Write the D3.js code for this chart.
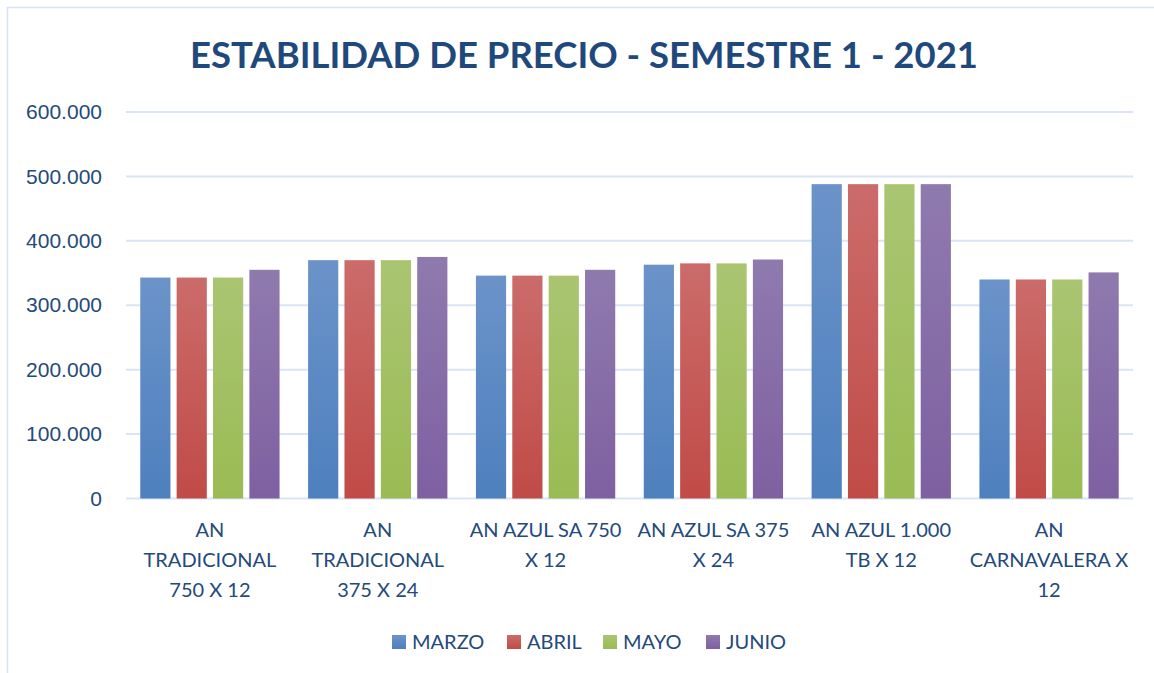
<!DOCTYPE html>
<html>
<head>
<meta charset="utf-8">
<script src="https://cdn.jsdelivr.net/npm/d3@7"></script>
<style>
  body { margin: 0; background: #fff; }
  svg { display: block; font-family: Lato, "Open Sans", sans-serif; }
</style>
</head>
<body>
<svg id="chart"></svg>
<script>
// data
var categories = [
  "AN\nTRADICIONAL\n750 X 12",
  "AN\nTRADICIONAL\n375 X 24",
  "AN AZUL SA 750\nX 12",
  "AN AZUL SA 375\nX 24",
  "AN AZUL 1.000\nTB X 12",
  "AN\nCARNAVALERA X\n12"
];
var months = ["MARZO", "ABRIL", "MAYO", "JUNIO"];
var marzo = [343000, 370000, 346000, 363000, 488000, 340000];
var abril = [343000, 370000, 346000, 365000, 488000, 340000];
var mayo  = [343000, 370000, 346000, 365000, 488000, 340000];
var junio = [355000, 375000, 355000, 371000, 488000, 351000];
var yTicks = [0, 100000, 200000, 300000, 400000, 500000, 600000];

var series = [marzo, abril, mayo, junio];
var colorsTop = ["#6b93c9", "#cb6c6a", "#aac572", "#8f7aae"];
var colorsBottom = ["#4e80be", "#c04b47", "#9abb54", "#7e60a1"];

var width = 1154;
var height = 673;
var margin = {top: 112, right: 21, bottom: 174, left: 126};
var textColor = "#24497b";

var svg = d3.select("#chart")
    .attr("width", width)
    .attr("height", height);

// outer border
svg.append("rect")
    .attr("x", 7.5).attr("y", 7.5)
    .attr("width", width - 6).attr("height", height - 4)
    .attr("fill", "none")
    .attr("stroke", "#d6e3f3")
    .attr("stroke-width", 1.5);

var defs = svg.append("defs");
months.forEach(function(m, i){
  var g = defs.append("linearGradient")
      .attr("id", "grad" + i)
      .attr("x1", 0).attr("y1", 0).attr("x2", 0).attr("y2", 1);
  g.append("stop").attr("offset", "0%").attr("stop-color", colorsTop[i]);
  g.append("stop").attr("offset", "100%").attr("stop-color", colorsBottom[i]);
});

var x0 = d3.scaleBand()
    .domain(categories)
    .range([margin.left, width - margin.right])
    .paddingInner(0.17)
    .paddingOuter(0.085);

var x1 = d3.scaleBand()
    .domain(months)
    .range([0, x0.bandwidth()])
    .paddingInner(0.17);

var yScale = d3.scaleLinear()
    .domain([0, 600000])
    .range([height - margin.bottom - 0.5, margin.top]);

// gridlines
svg.append("g")
  .selectAll("line")
  .data(yTicks)
  .enter()
  .append("line")
    .attr("x1", margin.left)
    .attr("x2", width - margin.right)
    .attr("y1", d => yScale(d))
    .attr("y2", d => yScale(d))
    .attr("stroke", "#d9e5f4")
    .attr("stroke-width", 2);

// y axis labels
var yAxis = d3.axisLeft(yScale)
    .tickValues(yTicks)
    .tickSize(0)
    .tickPadding(24)
    .tickFormat(d => d3.format(",")(d).replace(/,/g, "."));

var yg = svg.append("g")
    .attr("transform", "translate(" + margin.left + ",0)")
    .call(yAxis);
yg.select(".domain").remove();
yg.selectAll("text")
    .attr("fill", textColor)
    .style("font-size", "21px");

// bars
var groups = svg.append("g")
  .selectAll("g")
  .data(categories)
  .enter()
  .append("g")
    .attr("transform", d => "translate(" + x0(d) + ",0)");

groups.selectAll("rect")
  .data((d, ci) => months.map((m, mi) => ({month: m, mi: mi, value: series[mi][ci]})))
  .enter()
  .append("rect")
    .attr("x", d => x1(d.month))
    .attr("y", d => yScale(d.value))
    .attr("width", x1.bandwidth())
    .attr("height", d => yScale(0) - yScale(d.value))
    .attr("fill", d => "url(#grad" + d.mi + ")");

// x labels
var xl = svg.append("g")
  .selectAll("text")
  .data(categories)
  .enter()
  .append("text")
    .attr("x", d => x0(d) + x0.bandwidth() / 2)
    .attr("y", 537)
    .attr("text-anchor", "middle")
    .attr("fill", textColor)
    .style("font-size", "20px");

xl.each(function(d){
  var lines = d.split("\n");
  var t = d3.select(this);
  lines.forEach(function(line, i){
    t.append("tspan")
      .attr("x", x0(d) + x0.bandwidth() / 2)
      .attr("dy", i === 0 ? 0 : 30)
      .text(line);
  });
});

// title
svg.append("text")
    .attr("x", 584)
    .attr("y", 68)
    .attr("text-anchor", "middle")
    .attr("fill", "#1f497d")
    .style("font-size", "36.5px")
    .style("font-weight", "bold")
    .text("ESTABILIDAD DE PRECIO - SEMESTRE 1 - 2021");

// legend
var legendX = [392, 507, 603, 706];
var legend = svg.append("g")
  .selectAll("g")
  .data(months)
  .enter()
  .append("g")
    .attr("transform", (d, i) => "translate(" + legendX[i] + ",635)");

legend.append("rect")
    .attr("width", 14)
    .attr("height", 14)
    .attr("fill", (d, i) => "url(#grad" + i + ")");

legend.append("text")
    .attr("x", 20)
    .attr("y", 14)
    .attr("fill", textColor)
    .style("font-size", "20px")
    .text(d => d);
</script>
</body>
</html>
